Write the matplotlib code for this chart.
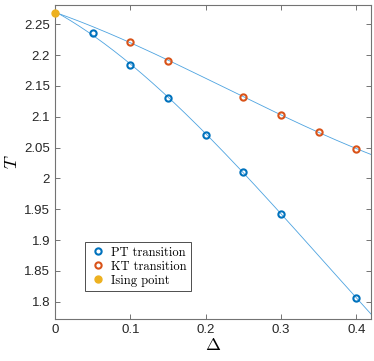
import numpy as np
import matplotlib
matplotlib.use("Agg")
from matplotlib import pyplot as plt

plt.rcParams['mathtext.fontset'] = 'cm'
plt.rcParams['font.family'] = ['Liberation Sans', 'DejaVu Sans']

# data
delta_pt = [0.05, 0.1, 0.15, 0.2, 0.25, 0.3, 0.4]
T_pt = [2.236, 2.184, 2.131, 2.071, 2.011, 1.9425, 1.806]
delta_kt = [0.1, 0.15, 0.25, 0.3, 0.35, 0.4]
T_kt = [2.2218, 2.1904, 2.1315, 2.1033, 2.0757, 2.0476]
delta_ising = [0.0]
T_ising = [2.269]

blue = '#0072BD'
orange = '#D95319'
yellow = '#EDB120'
linecol = '#4DA3E0'

fig = plt.figure(figsize=(3.74, 3.61), dpi=100)
ax = fig.add_axes([0.147, 0.1163, 0.8463, 0.8712])

# smooth fits through the points (including the Ising point)
xf = np.linspace(0, 0.42, 200)
for dx, ty in [(delta_pt, T_pt), (delta_kt, T_kt)]:
    xs = np.array(delta_ising + dx)
    ys = np.array(T_ising + ty)
    c = np.polyfit(xs, ys, 3)
    ax.plot(xf, np.polyval(c, xf), color=linecol, lw=0.6, zorder=1)

ax.plot(delta_pt, T_pt, 'o', ms=4.5, mfc='none', mec=blue, mew=1.5,
        label='PT transition', zorder=3)
ax.plot(delta_kt, T_kt, 'o', ms=4.5, mfc='none', mec=orange, mew=1.5,
        label='KT transition', zorder=3)
ax.plot(delta_ising, T_ising, 'o', ms=5, mfc=yellow, mec=yellow,
        label='Ising point', zorder=4, clip_on=False)

ax.set_xlim(0, 0.42)
ax.set_ylim(1.772, 2.282)
ax.set_xticks([0, 0.1, 0.2, 0.3, 0.4])
ax.set_xticklabels(['0', '0.1', '0.2', '0.3', '0.4'])
ax.set_yticks(np.arange(1.8, 2.2501, 0.05))
ax.set_yticklabels(['1.8', '1.85', '1.9', '1.95', '2', '2.05', '2.1',
                    '2.15', '2.2', '2.25'])

for s in ax.spines.values():
    s.set_color('0.45')
    s.set_linewidth(0.8)
ax.tick_params(direction='in', top=True, right=True, length=3.5,
               width=0.7, color='0.45', labelsize=9.5, labelcolor='0.15')

ax.set_xlabel(r'$\Delta$', fontsize=13, labelpad=1)
ax.set_ylabel(r'$T$', fontsize=13, labelpad=2)

leg = ax.legend(loc='lower left', bbox_to_anchor=(0.095, 0.089),
                borderaxespad=0,
                prop={'family': 'cmr10', 'size': 9},
                fancybox=False, edgecolor='0.3', framealpha=1,
                handletextpad=0.3, borderpad=0.35, labelspacing=0.15,
                handlelength=1.4)
leg.get_frame().set_linewidth(0.7)

fig.savefig('out.png', dpi=100)
